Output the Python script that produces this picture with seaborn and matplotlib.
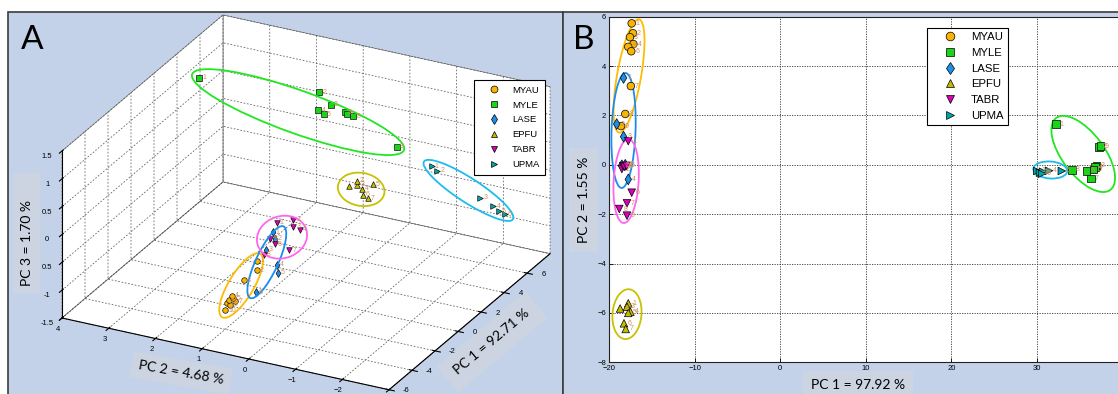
import numpy as np
import pandas as pd
import matplotlib
matplotlib.use("Agg")
import matplotlib.pyplot as plt
import seaborn as sns
from matplotlib.patches import Ellipse, Rectangle
from matplotlib.lines import Line2D
from matplotlib import transforms as mtransforms
from mpl_toolkits.mplot3d import proj3d

species = ["MYAU", "MYLE", "LASE", "EPFU", "TABR", "UPMA"]

# ---- panel A: PCA scores, PC1 / PC2 / PC3 ----
a_myau_pc1 = [-3.0] * 10
a_myau_pc2 = [0.56, 0.57, 0.84, 1.11, 1.07, 1.16, 1.03, 1.21, 1.14, 1.25]
a_myau_pc3 = [-0.36, -0.53, -0.76, -1.09, -1.13, -1.17, -1.18, -1.24, -1.26, -1.38]

a_myle_pc1 = [5.0] * 9
a_myle_pc2 = [3.77, 1.20, 0.95, 1.22, 1.11, 0.65, 0.61, 0.47, -0.46]
a_myle_pc3 = [0.94, 1.15, 0.97, 0.82, 0.77, 0.89, 0.86, 0.85, 0.48]

a_lase_pc1 = [-3.0] * 6
a_lase_pc2 = [0.23, 0.18, 0.37, 0.14, 0.12, 0.59]
a_lase_pc3 = [0.21, 0.10, -0.13, -0.36, -0.50, -0.93]

a_epfu_pc1 = [1.0] * 7
a_epfu_pc2 = [-0.43, -0.59, -0.60, -0.69, -0.93, -0.72, -0.82]
a_epfu_pc3 = [0.46, 0.59, 0.52, 0.46, 0.59, 0.36, 0.32]

a_tabr_pc1 = [-3.0] * 8
a_tabr_pc2 = [0.14, -0.21, -0.21, -0.36, 0.28, 0.18, -0.13, 0.42]
a_tabr_pc3 = [0.40, 0.52, 0.39, 0.36, 0.08, 0.00, -0.05, -0.23]

a_upma_pc1 = [6.0] * 6
a_upma_pc2 = [-0.96, -1.08, -2.00, -2.28, -2.39, -2.53]
a_upma_pc3 = [0.04, -0.01, -0.33, -0.43, -0.50, -0.53]

# ---- panel B: PCA scores, PC1 / PC2 ----
b_myau_pc1 = [-17.35, -17.2, -17.55, -17.15, -17.75, -17.4, -17.45, -18.1, -18.6]
b_myau_pc2 = [5.73, 5.33, 5.17, 4.89, 4.78, 4.60, 3.19, 2.06, 1.57]

b_myle_pc1 = [32.2, 37.25, 36.97, 36.8, 36.6, 35.8, 36.3, 34.1, 37.4]
b_myle_pc2 = [1.65, 0.73, -0.04, -0.10, -0.19, -0.25, -0.55, -0.21, 0.75]

b_lase_pc1 = [-18.3, -19.1, -18.3, -17.75, -18.5, -18.1]
b_lase_pc2 = [3.52, 1.65, 1.14, -0.59, -0.02, 0.0]

b_epfu_pc1 = [-17.75, -18.7, -17.9, -17.5, -17.75, -18.25, -18.05]
b_epfu_pc2 = [-5.61, -5.82, -5.75, -5.95, -6.00, -6.42, -6.65]

b_tabr_pc1 = [-17.75, -18.5, -18.35, -18.2, -17.95, -17.35, -17.9, -18.8, -17.9]
b_tabr_pc2 = [0.96, -0.17, -0.05, -0.08, -0.04, -1.13, -1.56, -1.79, -2.06]

b_upma_pc1 = [30.04, 30.35, 30.7, 31.4, 32.9, 30.6]
b_upma_pc2 = [-0.25, -0.32, -0.28, -0.24, -0.25, -0.36]

a_data = {
    "MYAU": (a_myau_pc1, a_myau_pc2, a_myau_pc3),
    "MYLE": (a_myle_pc1, a_myle_pc2, a_myle_pc3),
    "LASE": (a_lase_pc1, a_lase_pc2, a_lase_pc3),
    "EPFU": (a_epfu_pc1, a_epfu_pc2, a_epfu_pc3),
    "TABR": (a_tabr_pc1, a_tabr_pc2, a_tabr_pc3),
    "UPMA": (a_upma_pc1, a_upma_pc2, a_upma_pc3),
}
b_data = {
    "MYAU": (b_myau_pc1, b_myau_pc2),
    "MYLE": (b_myle_pc1, b_myle_pc2),
    "LASE": (b_lase_pc1, b_lase_pc2),
    "EPFU": (b_epfu_pc1, b_epfu_pc2),
    "TABR": (b_tabr_pc1, b_tabr_pc2),
    "UPMA": (b_upma_pc1, b_upma_pc2),
}

a_pc1_ticks = [-6, -4, -2, 0, 2, 4, 6]

# styles
colors = {"MYAU": "#f7b500", "MYLE": "#19d419", "LASE": "#1e8fe6",
          "EPFU": "#c2bd00", "TABR": "#d800b8", "UPMA": "#00a6a6"}
ring_colors = {"MYAU": "#ffbb00", "MYLE": "#22e622", "LASE": "#1a8cf0",
               "EPFU": "#c8c200", "TABR": "#ff66ee", "UPMA": "#1cbcee"}
markers = {"MYAU": "o", "MYLE": "s", "LASE": "d", "EPFU": "^", "TABR": "v", "UPMA": ">"}
num_color = "#cf8f62"
BG = "#c4d2e9"
LABEL_BG = "#cbd4e0"
LABEL_FONT = ["Lato", "DejaVu Sans"]

# ring sizes (px) for panel A: width, height, angle
a_rings = {"MYAU": (74, 25, 59), "MYLE": (225, 43, -19.7), "LASE": (79, 22, 65),
           "EPFU": (47, 33, -10), "TABR": (51, 42, 18), "UPMA": (106, 24, -33)}
# rings for panel B: centre (data units), width, height (px), angle
b_rings = {"MYAU": (-17.66, 3.6, 115, 24, 80), "LASE": (-18.3, 1.39, 115, 24, 88),
           "TABR": (-18.0, -0.66, 84, 25, 86.6), "EPFU": (-17.9, -6.05, 50, 29, 85),
           "MYLE": (35.4, 0.44, 90, 42, -53), "UPMA": (31.55, -0.21, 34, 17, -4)}

W, H = 1118, 394
plt.rcParams["font.family"] = ["Liberation Sans", "DejaVu Sans"]

fig = plt.figure(figsize=(W / 100, H / 100), dpi=100, facecolor="white")


def fx(px):
    return px / W


def fy(py):
    return 1 - py / H


# panel backgrounds
fig.add_artist(Rectangle((fx(8), -0.02), fx(563) - fx(8), fy(12) + 0.02, transform=fig.transFigure,
                         facecolor=BG, edgecolor="#3c3c3c", lw=1.2, zorder=-5))
fig.add_artist(Rectangle((fx(563), -0.02), 0.6, fy(12) + 0.02, transform=fig.transFigure,
                         facecolor=BG, edgecolor="#3c3c3c", lw=1.2, zorder=-5))

# ---------------- panel A (3D) ----------------
with plt.rc_context({"grid.linestyle": (0, (2.2, 2.2)), "grid.color": "#5a5a5a", "grid.linewidth": 0.55}):
    ax3 = fig.add_axes([0.05, 0.0, 0.45 * H / W * 2.2, 0.99], projection="3d", proj_type="ortho")
ax3.patch.set_alpha(0)
ax3.set_facecolor((1, 1, 1, 0))
ax3.view_init(elev=25.5, azim=-153)
ax3.set_box_aspect((354.6, 367, 185))
ax3.set_xlim(-6, 8, view_margin=0)
ax3.set_ylim(-3, 4, view_margin=0)
ax3.set_zlim(-1.5, 1.5, view_margin=0)
ax3.set_xticks(a_pc1_ticks)
ax3.set_xticklabels([""] * len(a_pc1_ticks))
ax3.set_yticks(np.arange(-3, 5, 1))
ax3.set_zticks(np.arange(-1.5, 1.6, 0.5))
ax3.set_zticklabels(["-1.5", "-1", "0.5", "0", "0.5", "1", "1.5"])
for axis in (ax3.xaxis, ax3.yaxis, ax3.zaxis):
    axis.set_pane_color((1, 1, 1, 1))
    axis.pane.set_edgecolor("#777777")
    axis.pane.set_linewidth(0.5)
    axis._axinfo["grid"].update(linestyle=(0, (2.2, 2.2)), color="#5a5a5a", linewidth=0.55)
    axis.line.set_linewidth(0.8)
ax3.tick_params(labelsize=5.5)
ax3.tick_params(axis="y", pad=-3)
ax3.tick_params(axis="z", pad=-2)

for sp in species:
    p1, p2, p3 = a_data[sp]
    ax3.scatter(p1, p2, p3, marker=markers[sp], s=16, c=colors[sp], edgecolors="black",
                linewidths=0.45, depthshade=False)

# fit the projected box to the reference position
target_a = np.array([62.0, H - 318.0])
target_b = np.array([389.0, H - 390.0])


def to_px(x, y, z):
    x, y, z = np.broadcast_arrays(np.atleast_1d(x), np.atleast_1d(y), np.atleast_1d(z))
    xs, ys, _ = proj3d.proj_transform(x.astype(float), y.astype(float), z.astype(float), ax3.M)
    return ax3.transData.transform(np.column_stack([xs, ys]))


for _ in range(4):
    fig.canvas.draw()
    pa = to_px(-6, 4, -1.5)[0]
    pb = to_px(-6, -3, -1.5)[0]
    k = np.linalg.norm(target_b - target_a) / np.linalg.norm(pb - pa)
    bb = ax3.get_position(original=True)
    cx, cy = (bb.x0 + bb.width / 2) * W, (bb.y0 + bb.height / 2) * H
    ncx = target_a[0] - k * (pa[0] - cx)
    ncy = target_a[1] - k * (pa[1] - cy)
    nw, nh = bb.width * W * k, bb.height * H * k
    ax3.set_position([(ncx - nw / 2) / W, (ncy - nh / 2) / H, nw / W, nh / H])

fig.canvas.draw()
for sp in species:
    p1, p2, p3 = a_data[sp]
    pts = to_px(p1, p2, p3)
    c = (pts.min(axis=0) + pts.max(axis=0)) / 2
    w, h, ang = a_rings[sp]
    fig.add_artist(Ellipse(c, w, h, angle=ang, transform=mtransforms.IdentityTransform(),
                           fill=False, edgecolor=ring_colors[sp], lw=1.3, zorder=2))
    # sample numbers beside each point
    for i, (px_, py_) in enumerate(pts):
        fig.text((px_ + 3) / W, py_ / H, str(i + 1), fontsize=5, color=num_color,
                 ha="left", va="center", zorder=2)

# PC1 tick labels sit to the right of the front-right floor edge
tick_pts = to_px(a_pc1_ticks, -3, -1.5)
for v, (px_, py_) in zip(a_pc1_ticks, tick_pts):
    fig.text((px_ + 17) / W, (py_ - 1) / H, f"{v}", fontsize=5.5, ha="center", va="center")

handles = [Line2D([], [], ls="", marker=markers[sp], markersize=5, markerfacecolor=colors[sp],
                  markeredgecolor="black", markeredgewidth=0.5) for sp in species]
legA = ax3.legend(handles, species, loc="upper left", bbox_to_anchor=(fx(474), fy(80)),
                  bbox_transform=fig.transFigure, fontsize=6.8, frameon=True, fancybox=False,
                  edgecolor="black", framealpha=1, borderaxespad=0, labelspacing=0.62,
                  handlelength=3.0, handletextpad=0.4, borderpad=0.6)
legA.get_frame().set_linewidth(0.8)

fig.text(fx(32), fy(40), "A", fontsize=24, family=LABEL_FONT, ha="center", va="center")
fig.add_artist(Rectangle((fx(13), fy(293)), fx(40) - fx(13), fy(173) - fy(293), transform=fig.transFigure,
                         facecolor=LABEL_BG, edgecolor="none", zorder=-4))
fig.text(fx(27.5), fy(243), "PC 3 = 1.70 %", rotation=90, fontsize=10, family=LABEL_FONT,
         ha="center", va="center", zorder=-3)
fig.text(fx(181), fy(373), "PC 2 = 4.68 %", rotation=-10, fontsize=10, family=LABEL_FONT,
         ha="center", va="center", rotation_mode="anchor", zorder=-3,
         bbox=dict(boxstyle="square,pad=0.5", facecolor=LABEL_BG, edgecolor="none"))
fig.text(fx(492), fy(342), "PC 1 = 92.71 %", rotation=40, fontsize=10, family=LABEL_FONT,
         ha="center", va="center", rotation_mode="anchor", zorder=-3,
         bbox=dict(boxstyle="square,pad=0.8", facecolor=LABEL_BG, edgecolor="none"))

# ---------------- panel B (2D) ----------------
axB = fig.add_axes([fx(609), fy(362.3), (1122.6 - 609) / W, (362.3 - 16.7) / H])
rows = []
for sp in species:
    x, y = b_data[sp]
    rows += [(sp, xi, yi) for xi, yi in zip(x, y)]
dfB = pd.DataFrame(rows, columns=["species", "PC1", "PC2"])
sns.scatterplot(data=dfB, x="PC1", y="PC2", hue="species", style="species", palette=colors,
                markers=markers, s=30, edgecolor="black", linewidth=0.5, legend=False, ax=axB, zorder=3)
for sp in species:
    x, y = b_data[sp]
    for i in range(len(x)):
        axB.annotate(str(i + 1), (x[i], y[i]), xytext=(4, 0), textcoords="offset pixels",
                     fontsize=5, color=num_color, ha="left", va="center", zorder=4)

axB.set_xlim(-20, 40)
axB.set_ylim(-8, 6)
axB.set_xticks(np.arange(-20, 31, 10))
axB.set_yticks(np.arange(-8, 7, 2))
axB.set_xlabel("")
axB.set_ylabel("")
axB.grid(True, linestyle=(0, (1.5, 1.5)), color="#333333", lw=0.6)
axB.set_axisbelow(True)
axB.tick_params(direction="in", length=3, width=0.6, labelsize=5.5, pad=2)
for s in axB.spines.values():
    s.set_linewidth(0.8)
    s.set_color("#222222")

for sp in species:
    cxd, cyd, w, h, ang = b_rings[sp]
    tr = mtransforms.IdentityTransform() + mtransforms.ScaledTranslation(cxd, cyd, axB.transData)
    axB.add_patch(Ellipse((0, 0), w, h, angle=ang, transform=tr, fill=False,
                          edgecolor=ring_colors[sp], lw=1.3, zorder=2))

legB = axB.legend(handles, species, loc="upper left", bbox_to_anchor=(fx(927), fy(27.7)),
                  bbox_transform=fig.transFigure, fontsize=8.2, frameon=True, fancybox=False,
                  edgecolor="black", framealpha=1, borderaxespad=0, labelspacing=0.5,
                  handlelength=3.2, handletextpad=0.25, borderpad=0.4, markerscale=1.25)
legB.get_frame().set_linewidth(0.8)

fig.text(fx(584), fy(40), "B", fontsize=24, family=LABEL_FONT, ha="center", va="center")
fig.text(fx(583.5), fy(200), "PC 2 = 1.55 %", rotation=90, fontsize=10, family=LABEL_FONT,
         ha="center", va="center", zorder=-3,
         bbox=dict(boxstyle="square,pad=0.6", facecolor=LABEL_BG, edgecolor="none"))
fig.text(fx(858), fy(385), "PC 1 = 97.92 %", fontsize=10, family=LABEL_FONT,
         ha="center", va="center", zorder=-3,
         bbox=dict(boxstyle="square,pad=0.6", facecolor=LABEL_BG, edgecolor="none"))

fig.savefig("out.png", dpi=100, facecolor="white")
